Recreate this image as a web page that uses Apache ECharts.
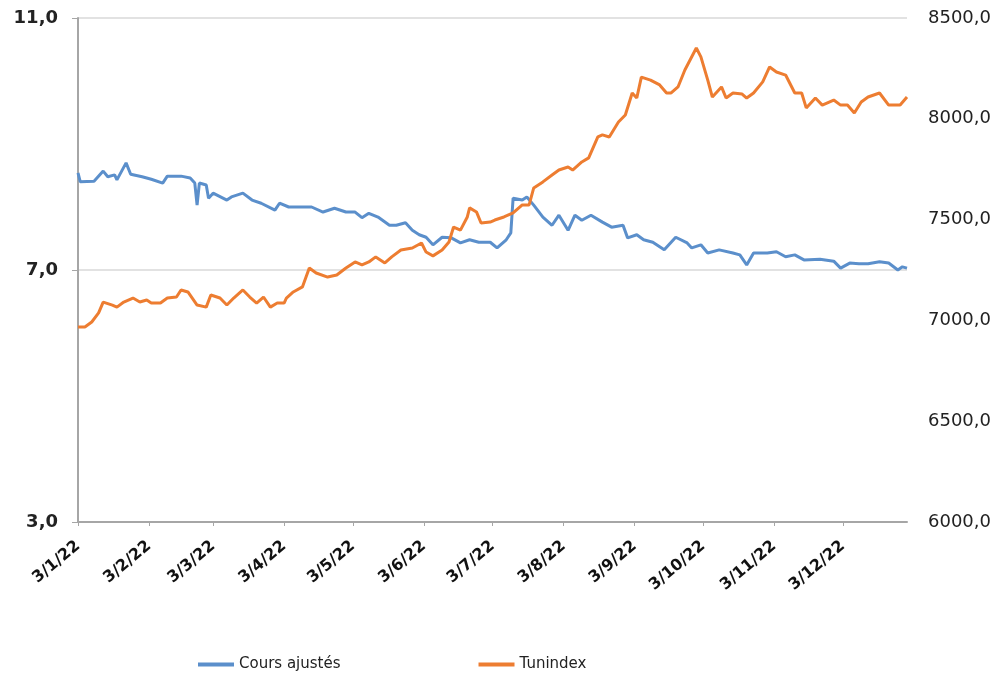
<!DOCTYPE html>
<html>
<head>
<meta charset="utf-8">
<title>Cours ajustés vs Tunindex</title>
<script src="https://cdn.jsdelivr.net/npm/echarts@6/dist/echarts.min.js"></script>
<style>
  html, body { margin: 0; padding: 0; background: #ffffff; }
  #chart { width: 1004px; height: 673px; }
</style>
</head>
<body>
<div id="chart"></div>
<script>
// Cours ajustés (axe de gauche)
var coursDates = [
  '2022-01-03', '2022-01-04', '2022-01-10', '2022-01-14', '2022-01-16', '2022-01-19', '2022-01-20',
  '2022-01-24', '2022-01-26', '2022-01-31', '2022-02-04', '2022-02-09', '2022-02-11', '2022-02-17',
  '2022-02-21', '2022-02-23', '2022-02-24', '2022-02-25', '2022-02-28', '2022-03-01', '2022-03-03',
  '2022-03-09', '2022-03-11', '2022-03-16', '2022-03-20', '2022-03-24', '2022-03-30', '2022-04-01',
  '2022-04-05', '2022-04-09', '2022-04-15', '2022-04-20', '2022-04-25', '2022-04-30', '2022-05-04',
  '2022-05-07', '2022-05-10', '2022-05-14', '2022-05-19', '2022-05-22', '2022-05-26', '2022-05-29',
  '2022-06-01', '2022-06-04', '2022-06-07', '2022-06-11', '2022-06-15', '2022-06-19', '2022-06-23',
  '2022-06-27', '2022-07-02', '2022-07-05', '2022-07-09', '2022-07-11', '2022-07-12', '2022-07-16',
  '2022-07-18', '2022-07-21', '2022-07-25', '2022-07-29', '2022-08-01', '2022-08-05', '2022-08-08',
  '2022-08-11', '2022-08-15', '2022-08-20', '2022-08-24', '2022-08-29', '2022-08-31', '2022-09-04',
  '2022-09-07', '2022-09-11', '2022-09-16', '2022-09-21', '2022-09-26', '2022-09-28', '2022-10-02',
  '2022-10-05', '2022-10-10', '2022-10-16', '2022-10-19', '2022-10-22', '2022-10-25', '2022-10-31',
  '2022-11-04', '2022-11-08', '2022-11-12', '2022-11-16', '2022-11-23', '2022-11-29', '2022-12-02',
  '2022-12-06', '2022-12-10', '2022-12-14', '2022-12-19', '2022-12-23', '2022-12-27', '2022-12-29',
  '2022-12-31'
];
var coursValues = [
  8.54, 8.40, 8.41, 8.57, 8.48, 8.51, 8.43,
  8.70, 8.52, 8.48, 8.44, 8.38, 8.49, 8.49,
  8.46, 8.38, 8.03, 8.38, 8.35, 8.14, 8.22,
  8.11, 8.16, 8.22, 8.11, 8.06, 7.95, 8.06,
  8.00, 8.00, 8.00, 7.92, 7.98, 7.92, 7.92,
  7.83, 7.90, 7.84, 7.71, 7.71, 7.75, 7.63,
  7.56, 7.52, 7.40, 7.52, 7.51, 7.43, 7.48,
  7.44, 7.44, 7.35, 7.48, 7.59, 8.14, 8.11,
  8.16, 8.03, 7.84, 7.71, 7.87, 7.63, 7.87,
  7.79, 7.87, 7.76, 7.68, 7.71, 7.51, 7.56,
  7.48, 7.44, 7.32, 7.52, 7.43, 7.35, 7.40,
  7.27, 7.32, 7.27, 7.24, 7.08, 7.27, 7.27,
  7.29, 7.21, 7.24, 7.16, 7.17, 7.14, 7.03,
  7.11, 7.10, 7.10, 7.13, 7.11, 7.00, 7.05,
  7.03
];

// Tunindex (axe de droite)
var tunDates = [
  '2022-01-03', '2022-01-06', '2022-01-09', '2022-01-12', '2022-01-14', '2022-01-18', '2022-01-20',
  '2022-01-23', '2022-01-27', '2022-01-30', '2022-02-02', '2022-02-04', '2022-02-08', '2022-02-11',
  '2022-02-15', '2022-02-17', '2022-02-20', '2022-02-24', '2022-02-28', '2022-03-02', '2022-03-06',
  '2022-03-09', '2022-03-12', '2022-03-16', '2022-03-19', '2022-03-22', '2022-03-25', '2022-03-28',
  '2022-03-31', '2022-04-03', '2022-04-04', '2022-04-07', '2022-04-11', '2022-04-14', '2022-04-17',
  '2022-04-22', '2022-04-26', '2022-04-30', '2022-05-04', '2022-05-07', '2022-05-10', '2022-05-13',
  '2022-05-17', '2022-05-20', '2022-05-24', '2022-05-29', '2022-06-02', '2022-06-04', '2022-06-07',
  '2022-06-11', '2022-06-14', '2022-06-16', '2022-06-19', '2022-06-22', '2022-06-23', '2022-06-26',
  '2022-06-28', '2022-07-02', '2022-07-04', '2022-07-08', '2022-07-12', '2022-07-16', '2022-07-19',
  '2022-07-21', '2022-07-25', '2022-07-29', '2022-08-01', '2022-08-05', '2022-08-07', '2022-08-11',
  '2022-08-14', '2022-08-18', '2022-08-20', '2022-08-23', '2022-08-27', '2022-08-30', '2022-09-02',
  '2022-09-04', '2022-09-06', '2022-09-10', '2022-09-14', '2022-09-17', '2022-09-19', '2022-09-22',
  '2022-09-25', '2022-09-30', '2022-10-02', '2022-10-05', '2022-10-07', '2022-10-11', '2022-10-13',
  '2022-10-16', '2022-10-20', '2022-10-22', '2022-10-25', '2022-10-29', '2022-11-01', '2022-11-04',
  '2022-11-08', '2022-11-12', '2022-11-15', '2022-11-17', '2022-11-21', '2022-11-24', '2022-11-29',
  '2022-12-02', '2022-12-05', '2022-12-08', '2022-12-11', '2022-12-14', '2022-12-19', '2022-12-23',
  '2022-12-28', '2022-12-31'
];
var tunValues = [
  6967, 6967, 6992, 7037, 7091, 7076, 7066,
  7091, 7111, 7091, 7101, 7086, 7086, 7111,
  7116, 7151, 7141, 7076, 7066, 7126, 7111,
  7076, 7111, 7151, 7116, 7086, 7116, 7066,
  7086, 7086, 7111, 7141, 7166, 7260, 7235,
  7215, 7225, 7260, 7290, 7275, 7290, 7315,
  7285, 7315, 7349, 7359, 7384, 7339, 7320,
  7349, 7389, 7463, 7448, 7513, 7558, 7538,
  7483, 7488, 7498, 7513, 7533, 7573, 7573,
  7657, 7687, 7721, 7746, 7761, 7746, 7786,
  7806, 7910, 7920, 7910, 7984, 8019, 8128,
  8103, 8207, 8192, 8168, 8128, 8128, 8158,
  8242, 8351, 8307, 8192, 8108, 8158, 8103,
  8128, 8123, 8103, 8128, 8183, 8257, 8232,
  8217, 8128, 8128, 8054, 8103, 8068, 8093,
  8068, 8068, 8029, 8083, 8108, 8128, 8068,
  8068, 8108
];

// graduations
var monthTicks = [];
for (var m = 0; m < 12; m++) {
  monthTicks.push(new Date(2022, m, 3).getTime());
}
var leftTicks = [3, 7, 11];

function toTime(s) {
  var p = s.split('-');
  return new Date(+p[0], +p[1] - 1, +p[2]).getTime();
}

function pairs(dates, values) {
  return dates.map(function (d, i) { return [toTime(d), values[i]]; });
}

function frNum(v) {
  return v.toFixed(1).replace('.', ',');
}

var chart = echarts.init(document.getElementById('chart'));
chart.setOption({
  backgroundColor: '#ffffff',
  animation: false,
  textStyle: { fontFamily: 'DejaVu Sans' },
  legend: {
    data: ['Cours ajustés', 'Tunindex'],
    left: 193,
    top: 652,
    icon: 'rect',
    itemWidth: 36,
    itemHeight: 4,
    itemGap: 138,
    textStyle: { fontSize: 15, color: '#222222' }
  },
  grid: {
    left: 78,
    right: 97,
    top: 18,
    bottom: 151
  },
  xAxis: {
    type: 'value',
    min: toTime('2022-01-03'),
    max: toTime('2022-12-31'),
    axisLine: { lineStyle: { color: '#a6a6a6', width: 2 } },
    axisTick: {
      customValues: monthTicks,
      length: 4,
      lineStyle: { color: '#a6a6a6' }
    },
    splitLine: { show: false },
    axisLabel: {
      customValues: monthTicks,
      rotate: 40,
      margin: 22,
      fontSize: 16,
      fontWeight: 'bold',
      color: '#111111',
      formatter: function (v) {
        var d = new Date(v);
        return d.getDate() + '/' + (d.getMonth() + 1) + '/' + String(d.getFullYear()).slice(2);
      }
    }
  },
  yAxis: [
    {
      type: 'value',
      min: 3,
      max: 11,
      axisLine: { show: true, lineStyle: { color: '#a6a6a6', width: 2 } },
      axisTick: {
        show: true,
        customValues: leftTicks,
        length: 6,
        lineStyle: { color: '#a6a6a6' }
      },
      splitLine: { show: true, lineStyle: { color: '#d9d9d9', width: 1.5 } },
      axisLabel: {
        customValues: leftTicks,
        margin: 20,
        fontSize: 18,
        fontWeight: 'bold',
        color: '#222222',
        formatter: frNum
      }
    },
    {
      type: 'value',
      min: 6000,
      max: 8500,
      interval: 500,
      position: 'right',
      axisLine: { show: false },
      axisTick: { show: false },
      splitLine: { show: false },
      axisLabel: {
        margin: 21,
        fontSize: 18,
        color: '#222222',
        formatter: frNum
      }
    }
  ],
  series: [
    {
      name: 'Cours ajustés',
      type: 'line',
      yAxisIndex: 0,
      showSymbol: false,
      color: '#5b8fcb',
      lineStyle: { width: 3 },
      data: pairs(coursDates, coursValues)
    },
    {
      name: 'Tunindex',
      type: 'line',
      yAxisIndex: 1,
      showSymbol: false,
      color: '#ed7d31',
      lineStyle: { width: 3 },
      data: pairs(tunDates, tunValues)
    }
  ]
})
</script>
</body>
</html>
